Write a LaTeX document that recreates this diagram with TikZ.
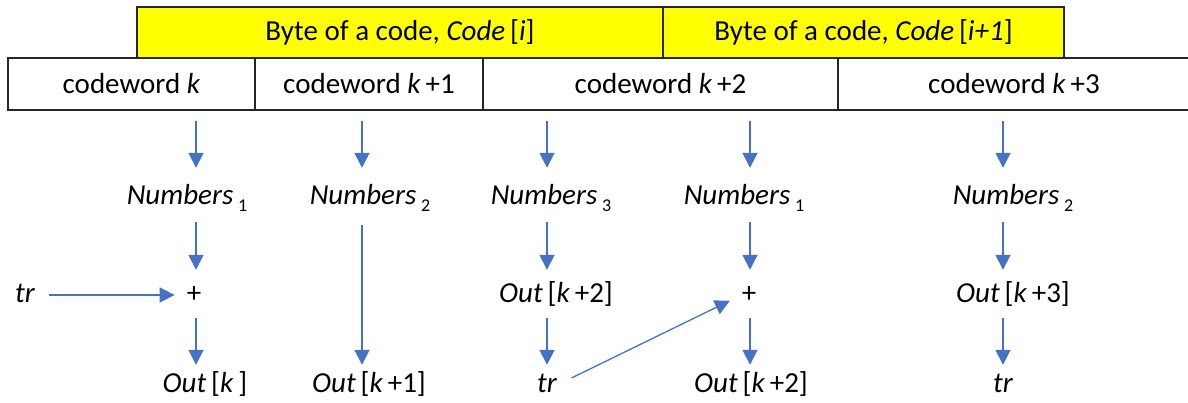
\documentclass[tikz,border=0pt]{standalone}
\usepackage{fontspec}
\setmainfont{Carlito}
\usetikzlibrary{arrows.meta}
\definecolor{arrowblue}{HTML}{4472C4}
\definecolor{byteyellow}{HTML}{FFFF00}
\newcommand{\lsub}[1]{\,\raisebox{-7pt}{\fontsize{18}{18}\selectfont #1}}
\begin{document}
\begin{tikzpicture}[x=1pt,y=-1pt,
  box/.style={draw=black!85, line width=1.2pt, inner sep=0pt, anchor=center},
  cwbox/.style={box, fill=white, minimum height=52pt},
  bytebox/.style={box, fill=byteyellow, minimum height=51pt},
  lbl/.style={inner sep=0pt, text height=20pt, text depth=6pt},
  arr/.style={draw=arrowblue, line width=1.8pt, -{Triangle[length=15pt,width=15pt]}},
  font=\fontsize{29}{34}\selectfont]
\useasboundingbox (0,0) rectangle (1188,403);
\clip (0,0) rectangle (1188,403);
% byte row
\node[bytebox, minimum width=526pt] (b1) at (400,32.5) {Byte of a code, \textit{Code}\,[\textit{i}]};
\node[bytebox, minimum width=401pt] (b2) at (863.5,32.5) {Byte of a code, \textit{Code}\,[\textit{i+1}]};
% codeword row
\node[cwbox, minimum width=247pt] (cw1) at (131.5,84) {codeword \textit{k}};
\node[cwbox, minimum width=228pt] (cw2) at (369,84) {codeword \textit{k}\,+1};
\node[cwbox, minimum width=355pt] (cw3) at (660.5,84) {codeword \textit{k}\,+2};
\node[cwbox, minimum width=352pt] (cw4) at (1014,84) {codeword \textit{k}\,+3};
% column positions
\coordinate (c1) at (196,0);
\coordinate (c2) at (362,0);
\coordinate (c3) at (547,0);
\coordinate (c4) at (750,0);
\coordinate (c5) at (1003,0);
% labels
\node[lbl] (n1) at (187,198) {\textit{Numbers}\lsub{1}};
\node[lbl] (n2) at (370,198) {\textit{Numbers}\lsub{2}};
\node[lbl] (n3) at (551,198) {\textit{Numbers}\lsub{3}};
\node[lbl] (n4) at (744,198) {\textit{Numbers}\lsub{1}};
\node[lbl] (n5) at (1013,198) {\textit{Numbers}\lsub{2}};
\node[lbl] (tr1) at (25,295) {\textit{tr}};
\node[lbl] (plus1) at (194,295) {+};
\node[lbl] (out3a) at (556,295) {\textit{Out}\,[\textit{k}\,+2]};
\node[lbl] (plus4) at (749,295) {+};
\node[lbl] (out5) at (1013,295) {\textit{Out}\,[\textit{k}\,+3]};
\node[lbl] (o1) at (205,385) {\textit{Out}\,[\textit{k}\,]};
\node[lbl] (o2) at (369,385) {\textit{Out}\,[\textit{k}\,+1]};
\node[lbl] (tr3) at (547,385) {\textit{tr}};
\node[lbl] (o4) at (751,385) {\textit{Out}\,[\textit{k}\,+2]};
\node[lbl] (tr5) at (1003,385) {\textit{tr}};
% arrows from codewords
\draw[arr, shorten <=10pt, shorten >=17pt] (cw1.south -| c1) -- (n1.north -| c1);
\draw[arr, shorten <=10pt, shorten >=17pt] (cw2.south -| c2) -- (n2.north -| c2);
\draw[arr, shorten <=10pt, shorten >=17pt] (cw3.south -| c3) -- (n3.north -| c3);
\draw[arr, shorten <=10pt, shorten >=17pt] (cw3.south -| c4) -- (n4.north -| c4);
\draw[arr, shorten <=10pt, shorten >=17pt] (cw4.south -| c5) -- (n5.north -| c5);
% middle arrows
\draw[arr, shorten <=11pt, shorten >=12pt] (n1.south -| c1) -- (plus1.north -| c1);
\draw[arr, shorten <=14pt, shorten >=7pt] (n2.south -| c2) -- (o2.north -| c2);
\draw[arr, shorten <=11pt, shorten >=12pt] (n3.south -| c3) -- (out3a.north -| c3);
\draw[arr, shorten <=11pt, shorten >=12pt] (n4.south -| c4) -- (plus4.north -| c4);
\draw[arr, shorten <=11pt, shorten >=12pt] (n5.south -| c5) -- (out5.north -| c5);
% lower arrows
\draw[arr, shorten <=10pt, shorten >=7pt] (plus1.south -| c1) -- (o1.north -| c1);
\draw[arr, shorten <=10pt, shorten >=7pt] (out3a.south -| c3) -- (tr3.north -| c3);
\draw[arr, shorten <=10pt, shorten >=7pt] (plus4.south -| c4) -- (o4.north -| c4);
\draw[arr, shorten <=10pt, shorten >=7pt] (out5.south -| c5) -- (tr5.north -| c5);
% carry arrows
\draw[arr, shorten <=14pt, shorten >=12pt] (tr1.east) -- (plus1.west);
\draw[arr, line width=1.3pt, shorten <=16pt, shorten >=13pt] (tr3.east) -- (plus4.west);
\end{tikzpicture}
\end{document}
